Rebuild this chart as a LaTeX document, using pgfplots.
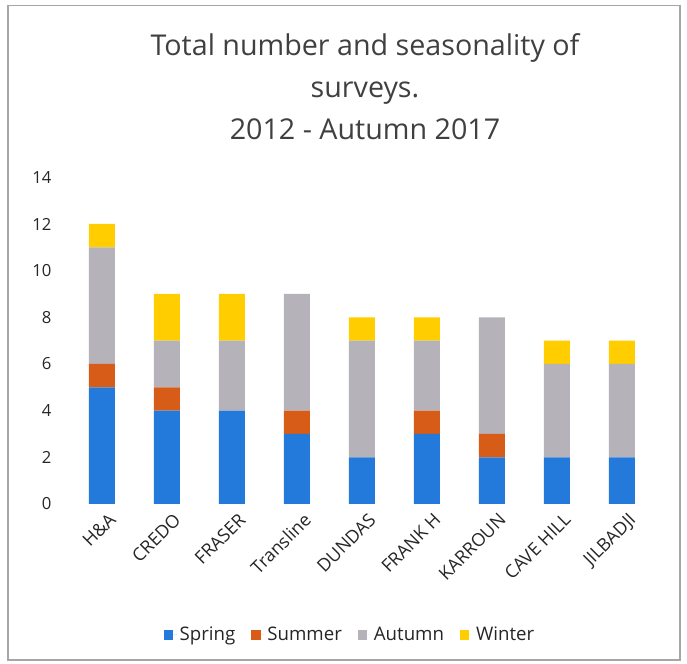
\documentclass[border=0pt]{standalone}
\usepackage{pgfplots}
\pgfplotsset{compat=1.18}
\usepackage{fontspec}
\setmainfont{Open Sans}
\definecolor{cSpring}{RGB}{35,122,218}
\definecolor{cSummer}{RGB}{214,92,24}
\definecolor{cAutumn}{RGB}{182,178,186}
\definecolor{cWinter}{RGB}{255,205,0}
\begin{document}
\begin{tikzpicture}
\path (0,0) rectangle (515.25pt,498pt);
\draw[gray!70, line width=0.8pt] (6pt,3pt) rectangle (510pt,494pt);
\node[align=center, font=\fontsize{21.5}{31.5}\selectfont, text=black!75] at (273.75pt,433pt)
  {Total number and seasonality of\\surveys.\\2012 - Autumn 2017};
\begin{axis}[
  at={(52.1pt,120pt)}, anchor=south west,
  scale only axis, width=438.75pt, height=245pt,
  ybar stacked, bar width=19.5pt,
  xmin=-0.5, xmax=8.5, ymin=0, ymax=14,
  xtick=data,
  xticklabels={H\&A,CREDO,FRASER,Transline,DUNDAS,FRANK H,KARROUN,CAVE HILL,JILBADJI},
  x tick label style={rotate=45, anchor=north east, font=\fontsize{13.5}{15}\selectfont, inner sep=1pt, yshift=-6pt, text=black!85},
  ytick={0,2,...,14},
  y tick label style={font=\fontsize{12.5}{14}\selectfont, xshift=-10pt, text=black!85},
  /pgf/number format/assume math mode=true,
  axis line style={draw=none}, tick style={draw=none},
  legend style={at={(0.48,-0.401)}, anchor=center, draw=none, legend columns=4,
    font=\fontsize{14}{16}\selectfont, text=black!85,
    /tikz/every even column/.append style={column sep=10pt}},
  legend image code/.code={\fill[#1] (0pt,-3.5pt) rectangle (7pt,3.5pt); \path (0pt,0pt) -- (10pt,0pt);},
]
\addplot[fill=cSpring, draw=none] coordinates {(0,5) (1,4) (2,4) (3,3) (4,2) (5,3) (6,2) (7,2) (8,2)};
\addplot[fill=cSummer, draw=none] coordinates {(0,1) (1,1) (2,0) (3,1) (4,0) (5,1) (6,1) (7,0) (8,0)};
\addplot[fill=cAutumn, draw=none] coordinates {(0,5) (1,2) (2,3) (3,5) (4,5) (5,3) (6,5) (7,4) (8,4)};
\addplot[fill=cWinter, draw=none] coordinates {(0,1) (1,2) (2,2) (3,0) (4,1) (5,1) (6,0) (7,1) (8,1)};
\legend{Spring,Summer,Autumn,Winter}
\end{axis}
\end{tikzpicture}
\end{document}
